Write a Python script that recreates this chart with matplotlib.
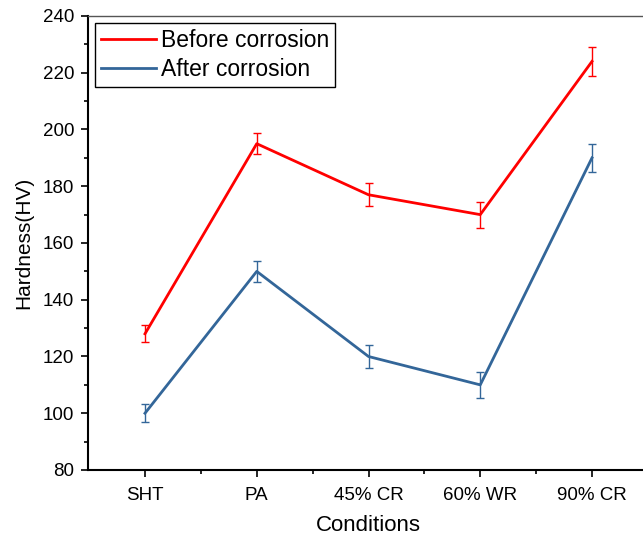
import numpy as np
import matplotlib.pyplot as plt
from matplotlib.ticker import MultipleLocator
from matplotlib.lines import Line2D

plt.rcParams['font.family'] = ['Liberation Sans', 'DejaVu Sans']

conditions = ["SHT", "PA", "45% CR", "60% WR", "90% CR"]
before = [128, 195, 177, 170, 224]
before_err = [3.0, 3.8, 4.0, 4.6, 5.0]
after = [100, 150, 120, 110, 190]
after_err = [3.2, 3.8, 4.0, 4.6, 5.0]

red = "#ff0000"
blue = "#336699"

fig = plt.figure(figsize=(6.43, 5.41), dpi=100)
# right edge of the frame lies just past the image, as in the original
ax = fig.add_axes([88 / 643, 71 / 541, 561 / 643, 454 / 541])

x = np.arange(1, len(conditions) + 1)
ax.errorbar(x, before, yerr=before_err, color=red, lw=2.0, elinewidth=1,
            capsize=3.2, capthick=1)
ax.errorbar(x, after, yerr=after_err, color=blue, lw=2.0, elinewidth=1,
            capsize=3.2, capthick=1)

ax.set_xlim(0.49, 5.51)
ax.set_ylim(80, 240)
ax.set_xticks(x)
ax.set_xticklabels(conditions)
ax.xaxis.set_minor_locator(plt.FixedLocator(x[:-1] + 0.5))
ax.yaxis.set_major_locator(MultipleLocator(20))
ax.yaxis.set_minor_locator(MultipleLocator(10))
ax.tick_params(axis="both", which="major", direction="out", length=5, width=1.2,
               labelsize=13.5, pad=5)
ax.tick_params(axis="both", which="minor", direction="out", length=3, width=1.2)
ax.tick_params(axis="x", which="major", pad=7)

for s in ["left", "bottom"]:
    ax.spines[s].set_linewidth(1.5)
ax.spines["top"].set_color("#555555")
ax.spines["top"].set_linewidth(1.0)

ax.set_xlabel("Conditions", fontsize=16, labelpad=8)
ax.set_ylabel("Hardness(HV)", fontsize=15, labelpad=7)

handles = [Line2D([], [], color=red, lw=2.0), Line2D([], [], color=blue, lw=2.0)]
leg = ax.legend(handles, ["Before corrosion", "After corrosion"],
                loc="upper left", fontsize=16.5, frameon=True, fancybox=False,
                edgecolor="black", framealpha=1, borderaxespad=0.3,
                handlelength=2.4, handletextpad=0.25, borderpad=0.25,
                labelspacing=0.28)
leg.get_frame().set_linewidth(1.0)

fig.savefig("out.png", dpi=100)
